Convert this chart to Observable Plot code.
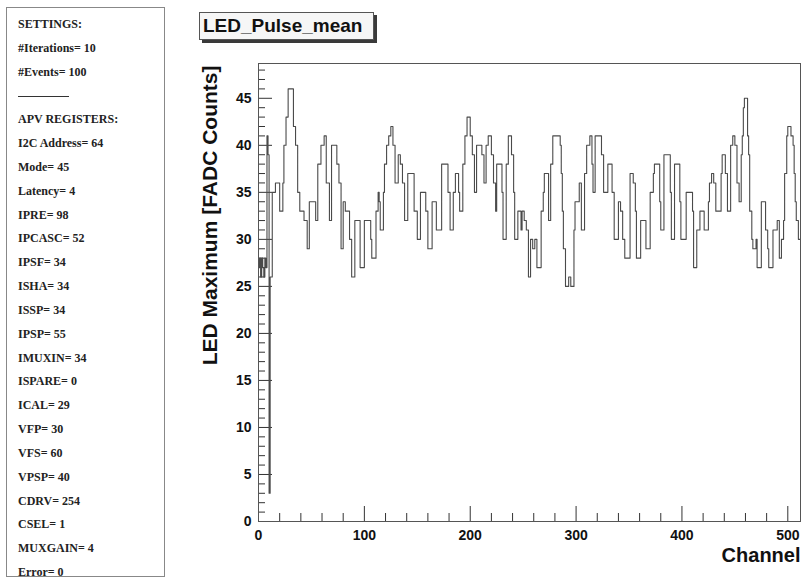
<!DOCTYPE html>
<html>
<head>
<meta charset="utf-8">
<script src="https://cdn.jsdelivr.net/npm/d3@7"></script>
<script src="https://cdn.jsdelivr.net/npm/@observablehq/plot@0.6"></script>
<style>
  html, body { margin: 0; padding: 0; background: #fff; }
  #page { position: relative; width: 805px; height: 578px; overflow: hidden; background: #fff; }
  #panel { position: absolute; left: 6px; top: 7px; width: 159px; height: 570px; border: 1px solid #888; box-sizing: border-box; }
  .pl { position: absolute; left: 11px; font-family: "Liberation Serif", "Times New Roman", serif; font-weight: bold; font-size: 12px; line-height: 14px; color: #222; white-space: nowrap; }
  .sep { position: absolute; left: 11px; width: 51px; height: 0; border-top: 1px solid #333; }
  #title { position: absolute; left: 199px; top: 12px; width: 175px; height: 28px; box-sizing: border-box; border: 1px solid #555; background: #f6f6f6; box-shadow: 3px 3px 0 #3a3a3a; font-family: "Liberation Sans", Arial, sans-serif; font-weight: bold; font-size: 19px; line-height: 26px; padding-left: 3px; color: #111; }
  #chart { position: absolute; left: 170px; top: 0; }
</style>
</head>
<body>
<div id="page">
  <div id="panel"></div>
  <div id="title"></div>
  <div id="chart"></div>
</div>
<script>
// ---- data ----
const chartTitle = "LED_Pulse_mean";
const xTitle = "Channel";
const yTitle = "LED Maximum [FADC Counts]";

const settingsLines = ["SETTINGS:", "#Iterations= 10", "#Events= 100"];
const registerLines = [
  "APV REGISTERS:", "I2C Address= 64", "Mode= 45", "Latency= 4", "IPRE= 98", "IPCASC= 52",
  "IPSF= 34", "ISHA= 34", "ISSP= 34", "IPSP= 55", "IMUXIN= 34", "ISPARE= 0", "ICAL= 29",
  "VFP= 30", "VFS= 60", "VPSP= 40", "CDRV= 254", "CSEL= 1", "MUXGAIN= 4", "Error= 0"
];

// histogram: [first channel of plateau, bin content]
const steps = [
  [0,27],[1,28],[2,26],[3,28],[4,27],[5,26],[6,28],[7,27],[8,41],[9,39],[10,3],[11,26],[13,35],
  [16,36],[20,33],[23,36],[24,40],[26,43],[28,46],[33,42],[35,40],[37,35],[39,33],[43,32],[46,29],
  [48,34],[54,32],[56,38],[59,40],[62,41],[64,36],[67,32],[69,40],[74,38],[76,36],[78,29],[80,34],
  [82,33],[86,30],[88,26],[91,32],[96,27],[100,32],[106,30],[107,28],[111,33],[113,35],[114,34],
  [115,31],[118,35],[119,38],[121,40],[123,41],[125,42],[127,40],[129,36],[132,39],[134,38],[136,36],
  [138,32],[141,37],[147,33],[150,30],[153,35],[158,33],[160,29],[164,34],[168,31],[173,38],[179,35],
  [181,31],[184,35],[186,37],[189,35],[190,33],[193,38],[195,41],[197,43],[200,41],[202,39],[204,35],
  [206,40],[211,39],[213,36],[215,40],[217,41],[220,39],[222,36],[224,33],[225,38],[230,35],[231,30],
  [234,38],[236,41],[239,39],[241,35],[242,30],[245,33],[248,31],[249,33],[251,32],[253,31],[255,26],
  [257,30],[259,29],[261,30],[263,27],[267,33],[269,35],[270,37],[274,32],[276,38],[278,41],[285,40],
  [286,37],[287,33],[288,29],[290,25],[293,26],[295,25],[298,31],[299,34],[303,36],[305,31],[308,37],
  [310,40],[313,41],[315,38],[316,35],[318,41],[324,39],[326,35],[330,38],[334,35],[336,30],[340,34],
  [342,33],[344,30],[346,28],[351,37],[354,36],[356,33],[357,28],[361,32],[366,29],[370,35],[373,37],
  [374,38],[379,34],[380,31],[383,39],[389,35],[390,30],[393,38],[398,34],[399,30],[404,35],[410,33],
  [411,27],[414,31],[417,33],[421,31],[425,34],[426,36],[428,37],[430,36],[432,33],[437,37],[438,39],
  [441,37],[443,33],[446,40],[448,41],[450,40],[452,36],[454,34],[456,39],[457,41],[458,44],[459,45],
  [462,41],[463,39],[464,33],[466,30],[467,29],[470,30],[471,27],[475,34],[479,31],[481,29],[482,27],
  [486,31],[490,32],[492,28],[494,30],[496,32],[497,37],[499,41],[500,42],[503,41],[505,40],[506,37],
  [507,34],[508,32],[510,30]
];
const nChannels = 512;
const yMax = 48.7;

const xMajor = [0, 100, 200, 300, 400, 500];
const xMinor = [20,40,60,80,120,140,160,180,220,240,260,280,320,340,360,380,420,440,460,480];
const yMajor = [0, 5, 10, 15, 20, 25, 30, 35, 40, 45];
const yMinor = [1,2,3,4,6,7,8,9,11,12,13,14,16,17,18,19,21,22,23,24,26,27,28,29,31,32,33,34,36,37,38,39,41,42,43,44,46,47,48];

// ---- left panel ----
const panel = document.getElementById("panel");
const panelItems = [...settingsLines, null, ...registerLines];
const pageTop = 7; // panel top offset
panelItems.forEach((t, i) => {
  const center = 24 + 23.83 * i - pageTop;
  if (t === null) {
    const s = document.createElement("div");
    s.className = "sep";
    s.style.top = (center) + "px";
    panel.appendChild(s);
  } else {
    const d = document.createElement("div");
    d.className = "pl";
    d.style.top = (center - 8) + "px";
    d.textContent = t;
    panel.appendChild(d);
  }
});

document.getElementById("title").textContent = chartTitle;

// ---- chart ----
const pts = steps.map(([c, v]) => ({c, v}));
pts.push({c: nChannels, v: steps[steps.length - 1][1]});

const W = 635, H = 578;
const mL = 88, mR = 5, mT = 63, mB = 57;
const fw = W - mL - mR, fh = H - mT - mB;

const chart = Plot.plot({
  width: W,
  height: H,
  marginLeft: mL,
  marginRight: mR,
  marginTop: mT,
  marginBottom: mB,
  style: {fontFamily: "'Liberation Sans', Arial, Helvetica, sans-serif", fontSize: "14px", fontWeight: "bold", color: "#111", background: "transparent"},
  x: {domain: [0, nChannels]},
  y: {domain: [0, yMax]},
  marks: [
    Plot.axisX({ticks: xMajor, tickSize: 0, tickPadding: 9, label: null, tickFormat: d3.format("d")}),
    Plot.axisY({ticks: yMajor, tickSize: 0, tickPadding: 7, label: null, tickFormat: d3.format("d")}),
    Plot.tickY(yMajor, {y: d => d, stroke: "#333", insetRight: fw - 14}),
    Plot.tickY(yMinor, {y: d => d, stroke: "#333", insetRight: fw - 7}),
    Plot.tickX(xMajor, {x: d => d, stroke: "#333", insetTop: fh - 15}),
    Plot.tickX(xMinor, {x: d => d, stroke: "#333", insetTop: fh - 8}),
    Plot.line(pts, {x: "c", y: "v", curve: "step-after", stroke: "#4a4a4a", strokeWidth: 1.1}),
    Plot.frame({stroke: "#555"}),
    Plot.text([yTitle], {text: d => d, frameAnchor: "top-left", rotate: -90, textAnchor: "end", dx: -56, dy: 2, fontSize: 21, fontWeight: "bold", fill: "#111"}),
    Plot.text([xTitle], {text: d => d, frameAnchor: "bottom-right", textAnchor: "end", dy: 40, fontSize: 20, fontWeight: "bold", fill: "#111"})
  ]
});
document.getElementById("chart").appendChild(chart);
</script>
</body>
</html>
